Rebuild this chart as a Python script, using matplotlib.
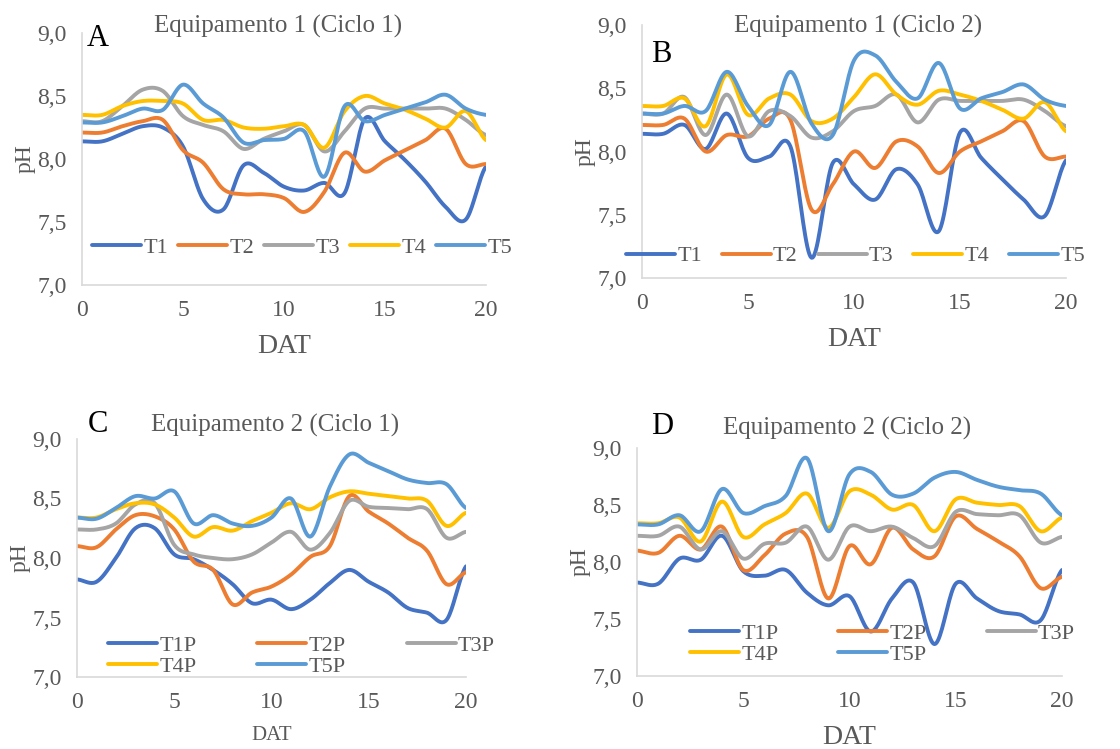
import numpy as np
import matplotlib
matplotlib.use("Agg")
import matplotlib.pyplot as plt
from matplotlib.ticker import FuncFormatter

# days after transplant
dat = list(range(21))

# Equipamento 1 (Ciclo 1)
a_t1 = [8.14, 8.14, 8.20, 8.26, 8.25, 8.10, 7.68, 7.60, 7.95, 7.89, 7.78,
        7.75, 7.81, 7.73, 8.32, 8.14, 7.99, 7.82, 7.62, 7.52, 7.94]
a_t2 = [8.21, 8.21, 8.26, 8.30, 8.31, 8.07, 7.97, 7.76, 7.72, 7.72, 7.69,
        7.58, 7.74, 8.05, 7.90, 7.99, 8.07, 8.15, 8.24, 7.96, 7.96]
a_t3 = [8.30, 8.30, 8.42, 8.55, 8.54, 8.34, 8.27, 8.22, 8.08, 8.16, 8.22,
        8.27, 8.06, 8.22, 8.40, 8.40, 8.40, 8.40, 8.40, 8.31, 8.19]
a_t4 = [8.35, 8.35, 8.42, 8.46, 8.46, 8.44, 8.31, 8.31, 8.25, 8.24, 8.26,
        8.27, 8.09, 8.38, 8.50, 8.44, 8.39, 8.32, 8.25, 8.38, 8.15]
a_t5 = [8.29, 8.29, 8.34, 8.40, 8.39, 8.59, 8.44, 8.33, 8.13, 8.15, 8.16,
        8.22, 7.86, 8.42, 8.30, 8.35, 8.40, 8.45, 8.51, 8.40, 8.35]

# Equipamento 1 (Ciclo 2)
b_t1 = [8.14, 8.14, 8.21, 8.02, 8.30, 7.95, 7.96, 8.04, 7.16, 7.91, 7.74,
        7.62, 7.86, 7.74, 7.37, 8.15, 7.95, 7.78, 7.62, 7.49, 7.93]
b_t2 = [8.21, 8.21, 8.26, 8.00, 8.13, 8.12, 8.26, 8.25, 7.54, 7.74, 8.00,
        7.87, 8.08, 8.04, 7.83, 8.00, 8.08, 8.16, 8.24, 7.96, 7.96]
b_t3 = [8.30, 8.30, 8.43, 8.13, 8.45, 8.12, 8.32, 8.28, 8.11, 8.16, 8.32,
        8.36, 8.45, 8.23, 8.41, 8.40, 8.40, 8.40, 8.41, 8.32, 8.20]
b_t4 = [8.36, 8.36, 8.42, 8.20, 8.61, 8.29, 8.42, 8.45, 8.24, 8.26, 8.43,
        8.61, 8.45, 8.37, 8.48, 8.45, 8.40, 8.33, 8.26, 8.39, 8.16]
b_t5 = [8.30, 8.30, 8.36, 8.32, 8.63, 8.36, 8.21, 8.63, 8.22, 8.13, 8.72,
        8.76, 8.55, 8.42, 8.70, 8.34, 8.42, 8.47, 8.53, 8.41, 8.36]

# Equipamento 2 (Ciclo 1)
c_t1 = [7.82, 7.80, 8.00, 8.25, 8.25, 8.03, 7.99, 7.90, 7.78, 7.62, 7.65,
        7.57, 7.65, 7.79, 7.90, 7.80, 7.71, 7.58, 7.54, 7.48, 7.93]
c_t2 = [8.10, 8.09, 8.24, 8.36, 8.35, 8.24, 7.97, 7.90, 7.61, 7.71, 7.76,
        7.86, 8.01, 8.10, 8.52, 8.39, 8.29, 8.17, 8.06, 7.78, 7.88]
c_t3 = [8.24, 8.24, 8.29, 8.45, 8.46, 8.11, 8.03, 8.00, 7.99, 8.03, 8.13,
        8.22, 8.07, 8.21, 8.48, 8.43, 8.42, 8.41, 8.41, 8.17, 8.22]
c_t4 = [8.34, 8.34, 8.41, 8.46, 8.45, 8.34, 8.18, 8.26, 8.23, 8.31, 8.38,
        8.46, 8.41, 8.51, 8.56, 8.54, 8.52, 8.50, 8.48, 8.27, 8.38]
c_t5 = [8.34, 8.33, 8.42, 8.52, 8.50, 8.56, 8.29, 8.36, 8.29, 8.27, 8.34,
        8.50, 8.18, 8.60, 8.87, 8.80, 8.73, 8.66, 8.63, 8.62, 8.42]

# Equipamento 2 (Ciclo 2)
d_t1 = [7.82, 7.81, 8.03, 8.02, 8.23, 7.92, 7.88, 7.93, 7.73, 7.62, 7.70,
        7.39, 7.68, 7.82, 7.28, 7.81, 7.68, 7.57, 7.54, 7.49, 7.93]
d_t2 = [8.10, 8.08, 8.23, 8.11, 8.31, 7.93, 8.06, 8.25, 8.22, 7.68, 8.14,
        7.98, 8.30, 8.11, 8.05, 8.40, 8.29, 8.18, 8.05, 7.77, 7.87]
d_t3 = [8.23, 8.23, 8.31, 8.11, 8.27, 8.03, 8.16, 8.17, 8.31, 8.02, 8.31,
        8.27, 8.31, 8.21, 8.14, 8.44, 8.42, 8.41, 8.41, 8.17, 8.22]
d_t4 = [8.34, 8.34, 8.39, 8.18, 8.53, 8.22, 8.33, 8.43, 8.60, 8.30, 8.62,
        8.59, 8.46, 8.50, 8.27, 8.55, 8.52, 8.50, 8.49, 8.27, 8.39]
d_t5 = [8.33, 8.33, 8.41, 8.27, 8.64, 8.43, 8.49, 8.58, 8.91, 8.27, 8.77,
        8.79, 8.59, 8.60, 8.74, 8.79, 8.72, 8.66, 8.63, 8.60, 8.41]

labels_1 = ["T1", "T2", "T3", "T4", "T5"]
labels_2 = ["T1P", "T2P", "T3P", "T4P", "T5P"]
colors = ["#4472C4", "#ED7D31", "#A5A5A5", "#FFC000", "#5B9BD5"]

W, H = 1120, 749
plt.rcParams['font.family'] = ['Liberation Serif', 'DejaVu Serif']


def smooth(x, y, n=20):
    # Excel-like smoothed line (Catmull-Rom through the data points)
    x = np.asarray(x, float)
    y = np.asarray(y, float)
    xp = np.concatenate([[2 * x[0] - x[1]], x, [2 * x[-1] - x[-2]]])
    yp = np.concatenate([[y[0]], y, [y[-1]]])
    xs, ys = [], []
    t = np.linspace(0, 1, n, endpoint=False)
    for i in range(1, len(xp) - 2):
        p0, p1, p2, p3 = [np.array([xp[j], yp[j]]) for j in range(i - 1, i + 3)]
        b1 = p1 + (p2 - p0) / 6
        b2 = p2 - (p3 - p1) / 6
        pts = (np.outer((1 - t) ** 3, p1) + np.outer(3 * (1 - t) ** 2 * t, b1)
               + np.outer(3 * (1 - t) * t ** 2, b2) + np.outer(t ** 3, p2))
        xs.extend(pts[:, 0])
        ys.extend(pts[:, 1])
    xs.append(x[-1])
    ys.append(y[-1])
    return xs, ys


def box(l, t, r, b):
    return [l / W, 1 - b / H, (r - l) / W, (b - t) / H]


fig = plt.figure(figsize=(W / 100, H / 100), dpi=100)

panels = [
    dict(rect=box(82, 33, 486, 285), series=[a_t1, a_t2, a_t3, a_t4, a_t5], labels=labels_1,
         title="Equipamento 1 (Ciclo 1)", tpos=(278, 26), letter="A", lpos=(98, 38),
         xlab_size=20, leg=dict(ncol=5, loc=(92, 236, 512, 260))),
    dict(rect=box(642, 25, 1066, 278), series=[b_t1, b_t2, b_t3, b_t4, b_t5], labels=labels_1,
         title="Equipamento 1 (Ciclo 2)", tpos=(858, 26), letter="B", lpos=(661, 54),
         xlab_size=20, leg=dict(ncol=5, loc=(626, 244, 1085, 268))),
    dict(rect=box(77, 439, 466, 677), series=[c_t1, c_t2, c_t3, c_t4, c_t5], labels=labels_2,
         title="Equipamento 2 (Ciclo 1)", tpos=(275, 425), letter="C", lpos=(98, 425),
         xlab_size=15, leg=dict(ncol=3, loc=(108, 636, 495, 676))),
    dict(rect=box(637, 448, 1062, 676), series=[d_t1, d_t2, d_t3, d_t4, d_t5], labels=labels_2,
         title="Equipamento 2 (Ciclo 2)", tpos=(847, 428), letter="D", lpos=(662, 427),
         xlab_size=20, leg=dict(ncol=3, loc=(690, 624, 1075, 664))),
]

fmt = FuncFormatter(lambda v, p: f"{v:.1f}".replace(".", ","))

for p in panels:
    ax = fig.add_axes(p["rect"])
    lines = []
    for vals, lab, col in zip(p["series"], p["labels"], colors):
        xs, ys = smooth(dat, vals)
        lines += ax.plot(xs, ys, color=col, lw=2.8, label=lab, solid_capstyle="round")
    ax.set_xlim(0, 20)
    ax.set_ylim(7, 9)
    ax.set_xticks([0, 5, 10, 15, 20])
    ax.set_yticks([7.0, 7.5, 8.0, 8.5, 9.0])
    ax.yaxis.set_major_formatter(fmt)
    ax.tick_params(length=0, labelsize=17, labelcolor="#595959", pad=11)
    for s in ["top", "right"]:
        ax.spines[s].set_visible(False)
    for s in ["left", "bottom"]:
        ax.spines[s].set_color("#D9D9D9")
        ax.spines[s].set_linewidth(1.2)
    ax.set_xlabel("DAT", fontsize=p["xlab_size"], color="#595959", labelpad=9)
    ax.set_ylabel("pH", fontsize=17, color="#595959", labelpad=1)

    tx, ty = p["tpos"]
    fig.text(tx / W, 1 - ty / H, p["title"], fontsize=18, color="#595959",
             ha="center", va="center")
    lx, ly = p["lpos"]
    fig.text(lx / W, 1 - ly / H, p["letter"], fontsize=22, color="black",
             ha="center", va="center")

    ncol = p["leg"]["ncol"]
    if ncol == 3:
        # fill legend row by row: T1P T2P T3P / T4P T5P
        order = [0, 3, 1, 4, 2]
    else:
        order = [0, 1, 2, 3, 4]
    handles = [lines[i] for i in order]
    l, t, r, b = p["leg"]["loc"]
    ax.legend(handles, [h.get_label() for h in handles], loc="center",
              bbox_to_anchor=(l / W, 1 - b / H, (r - l) / W, (b - t) / H),
              bbox_transform=fig.transFigure, mode="expand", ncol=ncol,
              frameon=False, fontsize=16, handlelength=2.2, handletextpad=0.1,
              borderpad=0, borderaxespad=0, labelspacing=0.0, columnspacing=0.4,
              labelcolor="#595959")

fig.savefig("out.png", dpi=100)
